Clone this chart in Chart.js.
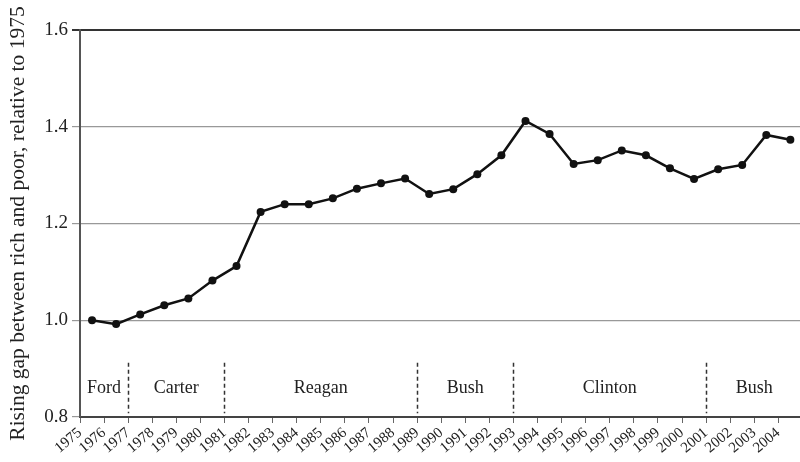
<!DOCTYPE html>
<html>
<head>
<meta charset="utf-8">
<script src="https://cdn.jsdelivr.net/npm/chart.js@4/dist/chart.umd.min.js"></script>
<style>
  html, body { margin: 0; padding: 0; background: #fff; }
  #wrap { width: 800px; height: 462px; }
</style>
</head>
<body>
<div id="wrap"><canvas id="chart"></canvas></div>
<script>
const years = [1975, 1976, 1977, 1978, 1979, 1980, 1981, 1982, 1983, 1984,
  1985, 1986, 1987, 1988, 1989, 1990, 1991, 1992, 1993, 1994,
  1995, 1996, 1997, 1998, 1999, 2000, 2001, 2002, 2003, 2004];
const gap = [1.000, 0.992, 1.012, 1.031, 1.045, 1.082, 1.112, 1.224, 1.240, 1.240,
  1.252, 1.272, 1.283, 1.293, 1.261, 1.271, 1.302, 1.341, 1.412, 1.385,
  1.323, 1.331, 1.351, 1.341, 1.314, 1.292, 1.312, 1.321, 1.383, 1.373];
const yTicks = [0.8, 1.0, 1.2, 1.4, 1.6];
const presidents = ["Ford", "Carter", "Reagan", "Bush", "Clinton", "Bush"];
const termStarts = [1975, 1977, 1981, 1989, 1993, 2001, 2005];

const serif = "'Liberation Serif', 'DejaVu Serif', serif";

// dashed term dividers and president names in the lower band
const presidentBand = {
  id: "presidentBand",
  afterDatasetsDraw(chart) {
    const { ctx, scales: { x, y } } = chart;
    ctx.save();
    ctx.strokeStyle = "#333";
    ctx.lineWidth = 1.5;
    ctx.setLineDash([4, 3]);
    for (let i = 1; i < termStarts.length - 1; i++) {
      const px = Math.round(x.getPixelForValue(termStarts[i])) + 0.5;
      ctx.beginPath();
      ctx.moveTo(px, y.getPixelForValue(0.912));
      ctx.lineTo(px, y.getPixelForValue(0.808));
      ctx.stroke();
    }
    ctx.setLineDash([]);
    ctx.fillStyle = "#222";
    ctx.font = "18px " + serif;
    ctx.textAlign = "center";
    ctx.textBaseline = "middle";
    presidents.forEach((name, i) => {
      const mid = (termStarts[i] + termStarts[i + 1]) / 2;
      ctx.fillText(name, x.getPixelForValue(mid), y.getPixelForValue(0.86));
    });
    ctx.restore();
  },
};

new Chart(document.getElementById("chart"), {
  type: "line",
  data: {
    datasets: [{
      data: years.map((yr, i) => ({ x: yr + 0.5, y: gap[i] })),
      borderColor: "#111",
      backgroundColor: "#111",
      borderWidth: 2.5,
      pointRadius: 4,
      pointBorderWidth: 0,
      tension: 0,
    }],
  },
  options: {
    responsive: true,
    maintainAspectRatio: false,
    animation: false,
    layout: { autoPadding: false, padding: { top: 30, right: 0, left: 0, bottom: 0 } },
    plugins: { legend: { display: false }, tooltip: { enabled: false } },
    scales: {
      x: {
        type: "linear",
        min: 1975,
        max: 2004.9,
        afterBuildTicks: (scale) => { scale.ticks = years.map((v) => ({ value: v })); },
        afterFit: (scale) => {
          scale.height = 45;
          scale.paddingRight = 0;
        },
        border: { color: "#444", width: 2 },
        grid: { drawOnChartArea: false, drawTicks: true, tickLength: 6, color: "#666" },
        ticks: {
          autoSkip: false,
          maxRotation: 40,
          minRotation: 40,
          padding: 1,
          color: "#222",
          font: { family: serif, size: 15 },
          callback: (v) => String(v),
        },
      },
      y: {
        min: 0.8,
        max: 1.6,
        afterBuildTicks: (scale) => { scale.ticks = yTicks.map((v) => ({ value: v })); },
        afterFit: (scale) => { scale.width = 80; },
        border: { color: "#555", width: 2 },
        grid: {
          drawTicks: true,
          tickLength: 8,
          color: (c) => (c.tick && c.tick.value === 1.6 ? "#333" : "#999"),
          lineWidth: (c) => (c.tick && c.tick.value === 1.6 ? 2 : 1.2),
        },
        ticks: {
          padding: 4,
          color: "#222",
          font: { family: serif, size: 19 },
          callback: (v) => v.toFixed(1),
        },
        title: {
          display: true,
          text: "Rising gap between rich and poor, relative to 1975",
          color: "#222",
          font: { family: serif, size: 21.5 },
          padding: { top: 5, bottom: 2 },
        },
      },
    },
  },
  plugins: [presidentBand],
});
</script>
</body>
</html>
